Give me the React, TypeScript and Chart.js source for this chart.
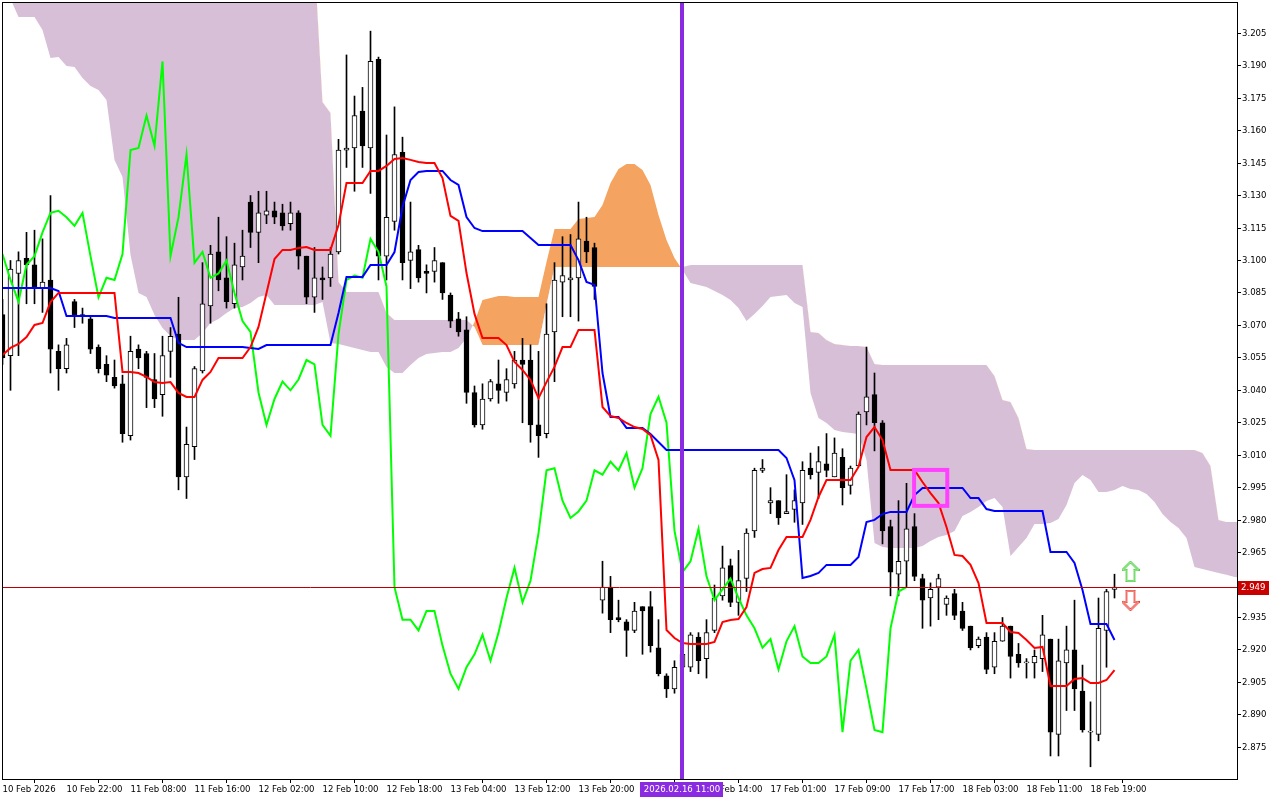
import React, { useEffect, useRef } from "react";
import { Chart, registerables } from "chart.js";

Chart.register(...registerables);

// ---- candle data (H1 bars, index 0..139) ----
const opens = [
  3.075, 3.056, 3.094, 3.101, 3.098, 3.087, 3.091, 3.058, 3.05, 3.081,
  3.075, 3.073, 3.06, 3.052, 3.046, 3.043, 3.019, 3.059, 3.057, 3.045,
  3.038, 3.058, 3.066, 3.0, 3.014, 3.049, 3.079, 3.104, 3.092, 3.08,
  3.097, 3.127, 3.113, 3.121, 3.123, 3.122, 3.117, 3.122, 3.102, 3.083,
  3.092, 3.092, 3.104, 3.151, 3.152, 3.169, 3.152, 3.193, 3.102, 3.118,
  3.15, 3.1, 3.105, 3.095, 3.095, 3.099, 3.084, 3.073, 3.068, 3.039,
  3.024, 3.036, 3.043, 3.039, 3.043, 3.054, 3.054, 3.024, 3.02, 3.067,
  3.09, 3.091, 3.092, 3.109, 3.106, 2.943, 2.949, 2.935, 2.933, 2.929,
  2.94, 2.94, 2.921, 2.908, 2.902, 2.912, 2.912, 2.926, 2.916, 2.929,
  2.945, 2.959, 2.942, 2.953, 2.975, 3.003, 2.988, 2.989, 2.983, 2.985,
  2.988, 3.004, 3.002, 3.006, 3.0, 3.009, 2.996, 3.005, 3.03, 3.038,
  3.025, 2.977, 2.955, 2.961, 2.977, 2.953, 2.944, 2.949, 2.941, 2.946,
  2.938, 2.931, 2.922, 2.926, 2.912, 2.924, 2.931, 2.918, 2.914, 2.914,
  2.916, 2.925, 2.881, 2.914, 2.92, 2.901, 2.882, 2.881, 2.929, 2.948,
];
const highs = [
  3.082, 3.1, 3.104, 3.113, 3.114, 3.11, 3.13, 3.061, 3.064, 3.082,
  3.078, 3.074, 3.061, 3.056, 3.054, 3.047, 3.065, 3.061, 3.058, 3.057,
  3.065, 3.069, 3.083, 3.023, 3.051, 3.099, 3.107, 3.12, 3.111, 3.108,
  3.114, 3.13, 3.132, 3.132, 3.127, 3.126, 3.127, 3.123, 3.102, 3.106,
  3.097, 3.106, 3.156, 3.195, 3.176, 3.18, 3.206, 3.194, 3.158, 3.171,
  3.157, 3.127, 3.107, 3.098, 3.106, 3.099, 3.085, 3.076, 3.074, 3.042,
  3.043, 3.045, 3.054, 3.05, 3.058, 3.064, 3.061, 3.058, 3.08, 3.099,
  3.111, 3.112, 3.127, 3.12, 3.108, 2.961, 2.954, 2.943, 2.934, 2.942,
  2.94, 2.947, 2.934, 2.909, 2.915, 2.925, 2.928, 2.928, 2.934, 2.95,
  2.968, 2.962, 2.966, 2.976, 3.004, 3.008, 2.995, 2.989, 3.001, 2.994,
  3.007, 3.011, 3.014, 3.02, 3.018, 3.013, 3.005, 3.03, 3.06, 3.048,
  3.026, 2.98, 2.989, 2.997, 2.983, 2.955, 2.951, 2.955, 2.945, 2.948,
  2.942, 2.931, 2.926, 2.928, 2.928, 2.935, 2.931, 2.923, 2.916, 2.92,
  2.936, 2.925, 2.925, 2.931, 2.943, 2.913, 2.896, 2.944, 2.948, 2.955,
];
const lows = [
  3.052, 3.04, 3.056, 3.08, 3.08, 3.076, 3.048, 3.04, 3.048, 3.069,
  3.071, 3.057, 3.048, 3.044, 3.041, 3.016, 3.017, 3.05, 3.032, 3.032,
  3.028, 3.046, 2.994, 2.99, 3.008, 3.048, 3.071, 3.086, 3.078, 3.078,
  3.091, 3.106, 3.099, 3.117, 3.117, 3.114, 3.114, 3.096, 3.08, 3.076,
  3.082, 3.088, 3.103, 3.143, 3.132, 3.143, 3.131, 3.091, 3.091, 3.114,
  3.091, 3.087, 3.09, 3.085, 3.09, 3.082, 3.069, 3.065, 3.034, 3.023,
  3.022, 3.035, 3.034, 3.035, 3.041, 3.025, 3.016, 3.009, 3.018, 3.044,
  3.074, 3.074, 3.072, 3.099, 3.082, 2.937, 2.928, 2.933, 2.917, 2.928,
  2.918, 2.919, 2.908, 2.898, 2.9, 2.905, 2.91, 2.909, 2.907, 2.928,
  2.943, 2.94, 2.936, 2.947, 2.972, 3.002, 2.983, 2.978, 2.983, 2.979,
  2.978, 2.999, 2.99, 3.0, 3.0, 2.987, 2.992, 3.005, 3.024, 3.012,
  2.969, 2.945, 2.945, 2.949, 2.952, 2.93, 2.931, 2.934, 2.936, 2.934,
  2.929, 2.92, 2.921, 2.909, 2.909, 2.924, 2.907, 2.912, 2.907, 2.907,
  2.91, 2.871, 2.871, 2.892, 2.892, 2.882, 2.866, 2.878, 2.912, 2.944,
];
const closes = [
  3.055, 3.096, 3.1, 3.098, 3.087, 3.09, 3.059, 3.05, 3.061, 3.075,
  3.074, 3.059, 3.05, 3.047, 3.042, 3.02, 3.058, 3.055, 3.046, 3.036,
  3.056, 3.065, 3.0, 3.015, 3.05, 3.08, 3.103, 3.091, 3.081, 3.098,
  3.102, 3.113, 3.122, 3.123, 3.12, 3.116, 3.122, 3.102, 3.083, 3.092,
  3.091, 3.103, 3.151, 3.152, 3.167, 3.153, 3.192, 3.102, 3.12, 3.149,
  3.099, 3.104, 3.092, 3.094, 3.1, 3.085, 3.072, 3.067, 3.039, 3.024,
  3.036, 3.044, 3.04, 3.045, 3.054, 3.052, 3.024, 3.019, 3.066, 3.091,
  3.093, 3.092, 3.11, 3.104, 3.088, 2.949, 2.934, 2.934, 2.929, 2.938,
  2.938, 2.922, 2.909, 2.902, 2.912, 2.918, 2.927, 2.915, 2.928, 2.944,
  2.958, 2.942, 2.952, 2.974, 3.003, 3.004, 2.989, 2.981, 2.984, 2.989,
  3.003, 3.001, 3.007, 3.003, 3.011, 2.995, 3.004, 3.029, 3.037, 3.025,
  2.975, 2.956, 2.961, 2.976, 2.954, 2.943, 2.948, 2.953, 2.944, 2.936,
  2.93, 2.921, 2.925, 2.911, 2.924, 2.931, 2.917, 2.914, 2.914, 2.917,
  2.927, 2.882, 2.915, 2.92, 2.902, 2.883, 2.882, 2.93, 2.947, 2.949,
];

// ---- Ichimoku lines ----
const tenkan = [
  3.0563, 3.0596, 3.0614, 3.0646, 3.0702, 3.0711, 3.0808, 3.085, 3.085, 3.085,
  3.085, 3.085, 3.085, 3.085, 3.085, 3.0485, 3.0485, 3.048, 3.0462, 3.0438,
  3.0434, 3.0438, 3.0388, 3.0369, 3.0369, 3.0448, 3.0485, 3.0549, 3.0549, 3.0549,
  3.0549, 3.06, 3.0693, 3.085, 3.1007, 3.1049, 3.1049, 3.1058, 3.1062, 3.1049,
  3.1049, 3.1049, 3.1164, 3.1358, 3.1358, 3.1358, 3.1414, 3.1414, 3.1437, 3.1469,
  3.1474, 3.1465, 3.1455, 3.1451, 3.1451, 3.1381, 3.1206, 3.1183, 3.0942, 3.0753,
  3.0642, 3.0642, 3.0642, 3.0609, 3.0531, 3.0494, 3.0448, 3.0364, 3.0438, 3.0508,
  3.06, 3.06, 3.0679, 3.0679, 3.0679, 3.0323, 3.0281, 3.0272, 3.0249, 3.023,
  3.0221, 3.0193, 3.0078, 2.9292, 2.9255, 2.9232, 2.9228, 2.9228, 2.9228, 2.9237,
  2.9329, 2.9338, 2.9343, 2.9398, 2.9556, 2.9574, 2.9579, 2.9662, 2.9722, 2.9722,
  2.9722, 2.9801, 2.9907, 2.9985, 2.9985, 2.9985, 2.9985, 3.0046, 3.0184, 3.023,
  3.017, 3.0032, 3.0032, 3.0032, 3.0032, 2.9976, 2.9925, 2.9879, 2.9768, 2.9639,
  2.9634, 2.9593, 2.9509, 2.9325, 2.9325, 2.9325, 2.9283, 2.9278, 2.9246, 2.9209,
  2.9214, 2.9033, 2.9033, 2.9033, 2.9066, 2.907, 2.9047, 2.9047, 2.9061, 2.9107,
];
const kijun = [
  3.0873, 3.0873, 3.0873, 3.0873, 3.0873, 3.0873, 3.0873, 3.0859, 3.0743, 3.0743,
  3.0743, 3.0743, 3.0743, 3.0743, 3.0734, 3.0734, 3.0734, 3.0734, 3.0734, 3.0734,
  3.0734, 3.0734, 3.0619, 3.06, 3.06, 3.06, 3.06, 3.06, 3.06, 3.06,
  3.06, 3.0596, 3.0591, 3.0609, 3.0609, 3.0609, 3.0609, 3.0609, 3.0609, 3.0609,
  3.0609, 3.0609, 3.0757, 3.0924, 3.0924, 3.0924, 3.0979, 3.0979, 3.0979, 3.1039,
  3.1247, 3.1372, 3.1409, 3.1414, 3.1414, 3.1414, 3.1372, 3.1349, 3.1201, 3.115,
  3.1136, 3.1136, 3.1136, 3.1136, 3.1136, 3.1136, 3.1104, 3.1072, 3.1072, 3.1072,
  3.1072, 3.1072, 3.1002, 3.0901, 3.0887, 3.048, 3.0277, 3.0277, 3.0226, 3.0226,
  3.0226, 3.0198, 3.0161, 3.0124, 3.0124, 3.0124, 3.0124, 3.0124, 3.0124, 3.0124,
  3.0124, 3.0124, 3.0124, 3.0124, 3.0124, 3.0124, 3.0124, 3.0124, 3.0087, 2.9985,
  2.9533, 2.9542, 2.9556, 2.9593, 2.9593, 2.9593, 2.9593, 2.963, 2.9791, 2.9801,
  2.9828, 2.9838, 2.9838, 2.9838, 2.9916, 2.9949, 2.9949, 2.9949, 2.9949, 2.9949,
  2.9949, 2.9902, 2.9902, 2.9851, 2.9842, 2.9842, 2.9842, 2.9842, 2.9842, 2.9842,
  2.9842, 2.9653, 2.9653, 2.9653, 2.9602, 2.9477, 2.932, 2.932, 2.932, 2.9246,
];
// cloud, already displaced 26 bars forward (index 0..155)
const senkouA = [
  3.225, 3.2209, 3.2125, 3.2125, 3.2125, 3.2065, 3.1936, 3.1941, 3.1899, 3.1894,
  3.1844, 3.1807, 3.1788, 3.1742, 3.1465, 3.1386, 3.1025, 3.085, 3.0831, 3.0748,
  3.0688, 3.0651, 3.0633, 3.0633, 3.0633, 3.0665, 3.0711, 3.073, 3.0757, 3.078,
  3.0785, 3.0804, 3.0831, 3.0841, 3.0794, 3.0794, 3.0794, 3.0794, 3.0794, 3.0794,
  3.0808, 3.0619, 3.0614, 3.0605, 3.0596, 3.0586, 3.0577, 3.0577, 3.0508, 3.048,
  3.048, 3.0517, 3.0549, 3.0568, 3.0572, 3.0577, 3.0577, 3.0596, 3.0642, 3.0716,
  3.0817, 3.0827, 3.0836, 3.0836, 3.0831, 3.0831, 3.0831, 3.0831, 3.0993, 3.1146,
  3.1146, 3.1146, 3.1192, 3.1196, 3.1201, 3.1257, 3.1358, 3.1423, 3.1446, 3.1446,
  3.1418, 3.1349, 3.121, 3.1095, 3.1012, 3.0956, 3.0896, 3.0887, 3.0877, 3.0859,
  3.0841, 3.0817, 3.078, 3.072, 3.0753, 3.079, 3.0831, 3.0836, 3.0841, 3.0804,
  3.0785, 3.0388, 3.0272, 3.0249, 3.0217, 3.0207, 3.0203, 3.0198, 3.0078, 2.9694,
  2.9676, 2.9671, 2.9671, 2.9671, 2.9671, 2.968, 2.9704, 2.9722, 2.9731, 2.975,
  2.9819, 2.9838, 2.9861, 2.9888, 2.9902, 2.9861, 2.9634, 2.9676, 2.9717, 2.9782,
  2.9782, 2.9787, 2.9805, 2.987, 2.9972, 3.0009, 2.9985, 2.993, 2.993, 2.9939,
  2.9958, 2.9944, 2.9939, 2.9921, 2.9884, 2.9828, 2.9791, 2.9764, 2.9717, 2.9583,
  2.9574, 2.9565, 2.9556, 2.9547, 2.9537, 2.9532,
];
const senkouB = [
  3.24, 3.241, 3.242, 3.243, 3.244, 3.244, 3.245, 3.245, 3.245, 3.246,
  3.246, 3.246, 3.247, 3.247, 3.247, 3.247, 3.248, 3.248, 3.248, 3.248,
  3.248, 3.248, 3.247, 3.247, 3.246, 3.246, 3.245, 3.245, 3.244, 3.244,
  3.243, 3.243, 3.242, 3.242, 3.241, 3.241, 3.24, 3.24, 3.2395, 3.2389,
  3.1733, 3.1682, 3.0901, 3.0854, 3.0854, 3.0854, 3.0854, 3.0854, 3.0757, 3.0725,
  3.0725, 3.0725, 3.0725, 3.0725, 3.0725, 3.0725, 3.0725, 3.0725, 3.0725, 3.0693,
  3.0609, 3.0609, 3.0609, 3.0609, 3.0609, 3.0609, 3.0609, 3.0609, 3.0794, 3.097,
  3.097, 3.097, 3.097, 3.097, 3.097, 3.097, 3.097, 3.097, 3.097, 3.097,
  3.097, 3.097, 3.097, 3.097, 3.097, 3.097, 3.0979, 3.0979, 3.0979, 3.0979,
  3.0979, 3.0979, 3.0979, 3.0979, 3.0979, 3.0979, 3.0979, 3.0979, 3.0979, 3.0979,
  3.0979, 3.067, 3.0665, 3.0633, 3.0614, 3.0609, 3.0605, 3.0605, 3.06, 3.0522,
  3.0517, 3.0517, 3.0517, 3.0517, 3.0517, 3.0517, 3.0517, 3.0517, 3.0517, 3.0517,
  3.0517, 3.0517, 3.0517, 3.0517, 3.0466, 3.0355, 3.0346, 3.0272, 3.0129, 3.0124,
  3.0124, 3.0124, 3.0124, 3.0124, 3.0124, 3.0124, 3.0124, 3.0124, 3.0124, 3.0124,
  3.0124, 3.0124, 3.0124, 3.0124, 3.0124, 3.0124, 3.0124, 3.0124, 3.0124, 3.0124,
  3.011, 3.005, 2.9801, 2.9791, 2.9791, 2.9791,
];
const CHIKOU_SHIFT = 26;

// ---- axis ticks ----
const timeTickBars = [0, 8, 16, 24, 32, 40, 48, 56, 64, 72, 80, 88, 96, 104, 112, 120, 128, 136];
const timeTickLabels = [
  "10 Feb 2026", "10 Feb 22:00", "11 Feb 08:00", "11 Feb 16:00", "12 Feb 02:00",
  "12 Feb 10:00", "12 Feb 18:00", "13 Feb 04:00", "13 Feb 12:00", "13 Feb 20:00",
  "", "16 Feb 14:00", "17 Feb 01:00", "17 Feb 09:00", "17 Feb 17:00",
  "18 Feb 03:00", "18 Feb 11:00", "18 Feb 19:00",
];
const priceTicks = [
  2.875, 2.89, 2.905, 2.92, 2.935, 2.965, 2.98, 2.995, 3.01, 3.025, 3.04, 3.055,
  3.07, 3.085, 3.1, 3.115, 3.13, 3.145, 3.16, 3.175, 3.19, 3.205,
];

// ---- chart objects ----
const lastPrice = 2.949;
const cursorBar = 85;
const cursorLabel = "2026.02.16 11:00";
const boxBars = [113.95, 118.1];
const boxPrices = [3.0032, 2.9866];
const upArrow = { bar: 141, price: 2.9563 };
const downArrow = { bar: 141, price: 2.9429 };

const FONT_FAMILY = '"DejaVu Sans Condensed", "DejaVu Sans", sans-serif';

function arrowImage(up: boolean, edge: string, inner: string): HTMLCanvasElement {
  const c = document.createElement("canvas");
  c.width = 18;
  c.height = 21;
  const g = c.getContext("2d")!;
  const pts = up
    ? [[9, 1], [17, 9], [13, 9], [13, 20], [5, 20], [5, 9], [1, 9]]
    : [[9, 20], [17, 12], [13, 12], [13, 1], [5, 1], [5, 12], [1, 12]];
  g.beginPath();
  pts.forEach(([px, py], k) => (k ? g.lineTo(px, py) : g.moveTo(px, py)));
  g.closePath();
  g.fillStyle = "#ffffff";
  g.fill();
  g.lineWidth = 2;
  g.strokeStyle = edge;
  g.stroke();
  g.lineWidth = 1;
  g.strokeStyle = inner;
  g.stroke();
  return c;
}

const zeroPadding = (s: any) => {
  s.paddingLeft = 0;
  s.paddingRight = 0;
  s.paddingTop = 0;
  s.paddingBottom = 0;
};

const overlayPlugin = {
  id: "mtOverlay",
  afterDatasetsDraw(chart: any) {
    const { ctx, chartArea: a, scales } = chart;
    const x = scales.x;
    const y = scales.y;
    ctx.save();
    // bid line
    const py = Math.floor(y.getPixelForValue(lastPrice)) + 0.5;
    ctx.strokeStyle = "#C00000";
    ctx.lineWidth = 1;
    ctx.beginPath();
    ctx.moveTo(a.left, py);
    ctx.lineTo(a.right, py);
    ctx.stroke();
    // rectangle object
    const bx1 = x.getPixelForValue(boxBars[0]);
    const bx2 = x.getPixelForValue(boxBars[1]);
    const by1 = y.getPixelForValue(boxPrices[0]);
    const by2 = y.getPixelForValue(boxPrices[1]);
    ctx.strokeStyle = "#FF40FF";
    ctx.lineWidth = 4;
    ctx.strokeRect(bx1, by1, bx2 - bx1, by2 - by1);
    // vertical line object
    const vx = Math.floor(x.getPixelForValue(cursorBar));
    ctx.fillStyle = "#8A2BE2";
    ctx.fillRect(vx - 2, a.top, 4, a.bottom - a.top);
    // frame
    ctx.strokeStyle = "#000";
    ctx.lineWidth = 1;
    ctx.strokeRect(a.left + 0.5, a.top + 0.5, a.right - a.left, a.bottom - a.top);
    ctx.restore();
  },
  afterDraw(chart: any) {
    const { ctx, chartArea: a, scales } = chart;
    const x = scales.x;
    const y = scales.y;
    ctx.save();
    ctx.font = `9.5px ${FONT_FAMILY}`;
    ctx.textBaseline = "middle";
    // bid price label
    const py = Math.floor(y.getPixelForValue(lastPrice)) + 0.5;
    ctx.fillStyle = "#C80000";
    ctx.fillRect(a.right + 1, Math.round(py - 7), 31, 14);
    ctx.fillStyle = "#fff";
    ctx.textAlign = "left";
    ctx.fillText(lastPrice.toFixed(3), a.right + 4, py + 0.5);
    // vertical line time label
    const vx = Math.floor(x.getPixelForValue(cursorBar));
    const w = Math.ceil(ctx.measureText(cursorLabel).width) + 6;
    ctx.fillStyle = "#8A2BE2";
    ctx.fillRect(vx - Math.round(w / 2), a.bottom + 3, w, 15);
    ctx.fillStyle = "#fff";
    ctx.textAlign = "center";
    ctx.fillText(cursorLabel, vx, a.bottom + 11);
    ctx.restore();
  },
};

export default function App() {
  const ref = useRef<HTMLCanvasElement>(null);
  useEffect(() => {
    document.body.style.margin = "0";
    const canvas = ref.current;
    if (!canvas) return;
    const upImg = arrowImage(true, "#3CC83C", "#B8F0A0");
    const downImg = arrowImage(false, "#E83030", "#F8B0A0");
    const pts = (arr: number[], offset = 0) => arr.map((v, i) => ({ x: i + offset, y: v }));
    const chart = new Chart(canvas, {
      type: "bar",
      data: {
        datasets: [
          {
            type: "line",
            label: "Senkou Span A",
            data: pts(senkouA),
            borderWidth: 0,
            borderColor: "rgba(0,0,0,0)",
            pointRadius: 0,
            tension: 0,
            fill: { target: "+1", above: "#F4A460", below: "#D8BFD8" },
            order: 20,
          },
          {
            type: "line",
            label: "Senkou Span B",
            data: pts(senkouB),
            borderWidth: 0,
            borderColor: "rgba(0,0,0,0)",
            pointRadius: 0,
            tension: 0,
            fill: false,
            order: 19,
          },
          {
            type: "bar",
            label: "wicks",
            data: lows.map((l, i) => ({ x: i, y: [l, highs[i]] })),
            backgroundColor: "#000",
            barThickness: 1,
            grouped: false,
            order: 10,
          },
          {
            type: "bar",
            label: "bodies",
            data: opens.map((o, i) => ({ x: i, y: [o, closes[i]] })),
            backgroundColor: opens.map((o, i) => (closes[i] >= o ? "#ffffff" : "#000000")),
            borderColor: "#000",
            borderWidth: 1,
            borderSkipped: false,
            barThickness: 5,
            minBarLength: 1,
            grouped: false,
            order: 9,
          },
          {
            type: "line",
            label: "Chikou Span",
            data: pts(closes.slice(CHIKOU_SHIFT)),
            borderColor: "#00FF00",
            borderWidth: 2,
            pointRadius: 0,
            tension: 0,
            fill: false,
            order: 4,
          },
          {
            type: "line",
            label: "Kijun-sen",
            data: pts(kijun),
            borderColor: "#0000FF",
            borderWidth: 2,
            pointRadius: 0,
            tension: 0,
            fill: false,
            order: 3,
          },
          {
            type: "line",
            label: "Tenkan-sen",
            data: pts(tenkan),
            borderColor: "#FF0000",
            borderWidth: 2,
            pointRadius: 0,
            tension: 0,
            fill: false,
            order: 2,
          },
          {
            type: "line",
            label: "up",
            data: [{ x: upArrow.bar, y: upArrow.price }],
            showLine: false,
            pointStyle: upImg,
            pointRadius: 10,
            order: 1,
          },
          {
            type: "line",
            label: "down",
            data: [{ x: downArrow.bar, y: downArrow.price }],
            showLine: false,
            pointStyle: downImg,
            pointRadius: 10,
            order: 1,
          },
        ] as any,
      },
      options: {
        animation: false,
        responsive: false,
        devicePixelRatio: 1,
        events: [],
        layout: { autoPadding: false, padding: { left: 2, top: 2, right: 0, bottom: 0 } },
        plugins: { legend: { display: false }, tooltip: { enabled: false } },
        scales: {
          x: {
            type: "linear",
            position: "bottom",
            min: -0.0625,
            max: 154.3125,
            offset: false,
            afterBuildTicks: (s: any) => {
              s.ticks = timeTickBars.map((v) => ({ value: v }));
            },
            afterFit: (s: any) => {
              s.height = 21;
              zeroPadding(s);
            },
            ticks: {
              autoSkip: false,
              maxRotation: 0,
              minRotation: 0,
              align: "start",
              padding: 1,
              color: "#000",
              font: { family: FONT_FAMILY, size: 9.5 },
              callback: (v: any) => {
                const k = timeTickBars.indexOf(Number(v));
                return k >= 0 ? timeTickLabels[k] : "";
              },
            },
            grid: { drawOnChartArea: false, drawTicks: true, tickLength: 4, color: "#000" },
            border: { display: false },
          },
          y: {
            type: "linear",
            position: "right",
            min: 2.86035,
            max: 3.21947,
            afterBuildTicks: (s: any) => {
              s.ticks = priceTicks.map((v) => ({ value: v }));
            },
            afterFit: (s: any) => {
              s.width = 43;
              zeroPadding(s);
            },
            ticks: {
              autoSkip: false,
              padding: 1,
              color: "#000",
              font: { family: FONT_FAMILY, size: 9.5 },
              callback: (v: any) => Number(v).toFixed(3),
            },
            grid: { drawOnChartArea: false, drawTicks: true, tickLength: 4, color: "#000" },
            border: { display: false },
          },
        },
      } as any,
      plugins: [overlayPlugin],
    });
    return () => chart.destroy();
  }, []);
  return (
    <div style={{ position: "fixed", left: 0, top: 0, width: 1280, height: 800, background: "#fff" }}>
      <canvas ref={ref} width={1280} height={800} style={{ display: "block" }} />
    </div>
  );
}
